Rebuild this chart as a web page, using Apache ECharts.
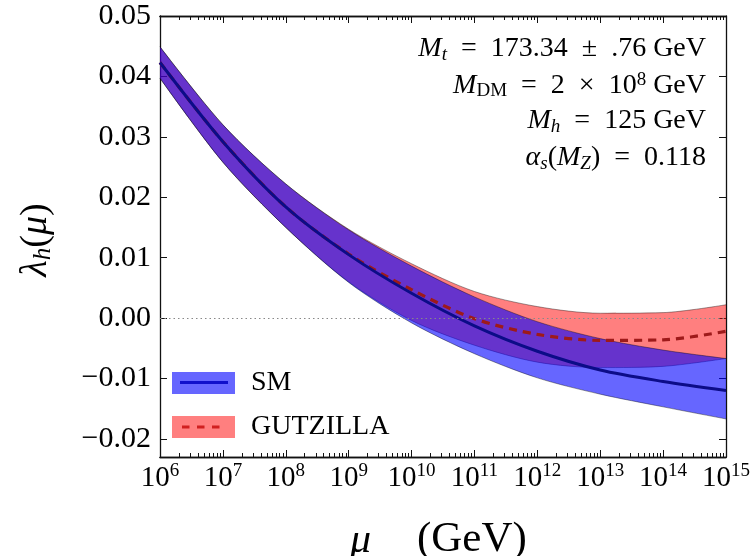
<!DOCTYPE html>
<html>
<head>
<meta charset="utf-8">
<script src="https://cdn.jsdelivr.net/npm/echarts@6/dist/echarts.min.js"></script>
<style>
  html, body { margin: 0; padding: 0; background: #fff; }
</style>
</head>
<body>
<div id="chart" style="width: 754px; height: 556px"></div>
<script>
// log10(mu / GeV), one point per decade
const logMu = [6, 7, 8, 9, 10, 11, 12, 13, 14, 15];

// SM running quartic
const smCentral = [0.0423, 0.0292, 0.0184, 0.0105, 0.0041, -0.0013, -0.0055, -0.0086, -0.0105, -0.0120];
const smUpper = [0.0449, 0.0320, 0.0222, 0.0146, 0.0086, 0.0035, -0.0006, -0.0034, -0.0053, -0.0067];
const smLower = [0.0397, 0.0258, 0.0150, 0.0059, -0.0008, -0.0059, -0.0099, -0.0126, -0.0147, -0.0167];

// GUTZILLA running quartic
const gutCentral = [0.0423, 0.0292, 0.0184, 0.0106, 0.0047, -0.0001, -0.0027, -0.0037, -0.0036, -0.0022];
const gutUpper = [0.0449, 0.0320, 0.0222, 0.0147, 0.0090, 0.0044, 0.0019, 0.0008, 0.0009, 0.0022];
const gutLower = [0.0397, 0.0258, 0.0150, 0.0060, -0.0004, -0.0045, -0.0073, -0.0082, -0.0080, -0.0067];

// ticks (x in decades)
const xMajorTicks = [6, 7, 8, 9, 10, 11, 12, 13, 14, 15];
const yTicks = [-0.02, -0.01, 0, 0.01, 0.02, 0.03, 0.04, 0.05];

const xMinorTicks = [];
for (let d = 6; d < 15; d++) {
  for (let k = 2; k <= 9; k++) xMinorTicks.push(d + Math.log10(k));
}

const FONT = "'Liberation Serif', 'DejaVu Serif', serif";
const EDGE = { color: "#000", opacity: 0.55, width: 0.7 };
const AXIS_LINE = { color: "#111", width: 1.3 };
const SMOOTH = 0.3;

const diff = (up, lo) => up.map((v, i) => +(v - lo[i]).toFixed(5));

const chart = echarts.init(document.getElementById("chart"));

// tick-only value axes laid over the category axis (log decades)
function tickAxis(pos, ticks, len) {
  return {
    type: "value",
    position: pos,
    min: 6,
    max: 15,
    axisLine: { show: true, onZero: false, lineStyle: AXIS_LINE },
    axisTick: { show: true, inside: true, length: len, customValues: ticks, lineStyle: { color: "#111", width: 1 } },
    axisLabel: { show: false },
    splitLine: { show: false },
  };
}

function yAxisDef(pos) {
  return {
    type: "value",
    position: pos,
    min: -0.023,
    max: 0.05,
    axisLine: { show: true, onZero: false, lineStyle: AXIS_LINE },
    axisTick: {
      show: true,
      inside: true,
      length: 7,
      customValues: yTicks,
      lineStyle: { color: "#111", width: 1 },
    },
    axisLabel: {
      show: pos === "left",
      customValues: yTicks,
      margin: 9,
      fontFamily: FONT,
      fontSize: 30,
      color: "#000",
      formatter: (v) => (v < -1e-9 ? "\u2212" : "") + Math.abs(v).toFixed(2),
    },
    splitLine: { show: false },
  };
}

const rich = {
  it: { fontFamily: FONT, fontStyle: "italic", fontSize: 28, lineHeight: 30, fill: "#000" },
  rm: { fontFamily: FONT, fontSize: 28, lineHeight: 30, fill: "#000" },
  sub: { fontFamily: FONT, fontStyle: "italic", fontSize: 19, lineHeight: 14, verticalAlign: "bottom", fill: "#000" },
  subrm: { fontFamily: FONT, fontSize: 19, lineHeight: 14, verticalAlign: "bottom", fill: "#000" },
  sup: { fontFamily: FONT, fontSize: 19, lineHeight: 14, verticalAlign: "top", fill: "#000" },
};

function note(text, y) {
  return { type: "text", right: 48, top: y, style: { text: text, rich: rich, align: "right" } };
}

const band = (stack, lo, up, color, z) => [
  {
    type: "line", stack: stack, stackStrategy: "all", data: lo, smooth: SMOOTH,
    showSymbol: false, symbol: "none", lineStyle: EDGE, z: z,
  },
  {
    type: "line", stack: stack, stackStrategy: "all", data: diff(up, lo), smooth: SMOOTH,
    showSymbol: false, symbol: "none", lineStyle: EDGE,
    areaStyle: { color: color, opacity: 1 }, z: z,
  },
];

const E = "\u2002"; // wider math spacing around relations

chart.setOption({
  animation: false,
  grid: { left: 160, right: 28, top: 16, bottom: 99 },
  xAxis: [
    {
      type: "category",
      data: logMu,
      boundaryGap: false,
      position: "bottom",
      axisLine: { show: true, onZero: false, lineStyle: AXIS_LINE },
      axisTick: { show: true, inside: true, length: 7, alignWithLabel: true, interval: 0, lineStyle: { color: "#111", width: 1 } },
      axisLabel: {
        interval: 0,
        margin: 5,
        formatter: (v) => "{b|10}{s|" + v + "}",
        rich: {
          b: { fontFamily: FONT, fontSize: 29, lineHeight: 32, color: "#000" },
          s: { fontFamily: FONT, fontSize: 19, lineHeight: 18, verticalAlign: "top", color: "#000" },
        },
      },
      splitLine: { show: false },
    },
    tickAxis("bottom", xMinorTicks, 4),
    tickAxis("top", xMajorTicks, 7),
    tickAxis("top", xMinorTicks, 4),
  ],
  yAxis: [yAxisDef("left"), yAxisDef("right")],
  series: [
    ...band("gut", gutLower, gutUpper, "rgba(255,0,0,0.5)", 1),
    ...band("sm", smLower, smUpper, "rgba(0,0,255,0.6)", 2),
    {
      name: "GUTZILLA", type: "line", data: gutCentral, smooth: SMOOTH,
      showSymbol: false, symbol: "none", z: 3,
      lineStyle: { color: "#9e1a1a", width: 3.2, type: [8, 6] },
    },
    {
      name: "SM", type: "line", data: smCentral, smooth: SMOOTH,
      showSymbol: false, symbol: "none", z: 4,
      lineStyle: { color: "#0c0c88", width: 3 },
      markLine: {
        silent: true, symbol: "none", label: { show: false },
        lineStyle: { color: "#888", type: [1.5, 3], width: 1 },
        data: [{ yAxis: 0 }],
      },
    },
  ],
  graphic: [
    note("{it|M}{sub|t}{rm|" + E + "=" + E + "173.34" + E + "\u00b1" + E + ".76 GeV}", 35),
    note("{it|M}{subrm|DM}{rm|" + E + "=" + E + "2" + E + "\u00d7" + E + "10}{sup|8}{rm| GeV}", 71),
    note("{it|M}{sub|h}{rm|" + E + "=" + E + "125 GeV}", 107),
    note("{it|\u03b1}{sub|s}{rm|(}{it|M}{sub|Z}{rm|)" + E + "=" + E + "0.118}", 144),

    // legend
    { type: "rect", shape: { x: 172, y: 372, width: 63, height: 22 }, style: { fill: "rgba(0,0,255,0.6)" } },
    { type: "line", shape: { x1: 180, y1: 382.5, x2: 228, y2: 382.5 }, style: { stroke: "#1010cc", lineWidth: 3 } },
    { type: "text", x: 251, y: 383, style: { text: "SM", font: "28px " + FONT, fill: "#000", verticalAlign: "middle" } },
    { type: "rect", shape: { x: 172, y: 416, width: 63, height: 22 }, style: { fill: "rgba(255,0,0,0.5)" } },
    { type: "line", shape: { x1: 182, y1: 427, x2: 221, y2: 427 }, style: { stroke: "#d02020", lineWidth: 3, lineDash: [7.5, 7.5] } },
    { type: "text", x: 251, y: 427, style: { text: "GUTZILLA", font: "28px " + FONT, fill: "#000", verticalAlign: "middle" } },

    // axis titles
    { type: "text", x: 350, y: 541, style: { text: "\u03bc", font: "italic 42px " + FONT, fill: "#000", verticalAlign: "middle" } },
    { type: "text", x: 417, y: 540, style: { text: "(GeV)", font: "43px " + FONT, fill: "#000", verticalAlign: "middle" } },
    {
      type: "text", x: 36, y: 240, rotation: Math.PI / 2,
      style: {
        text: "{it|\u03bb}{sub|h}{rm|(}{it|\u03bc}{rm|)}", align: "center", verticalAlign: "middle",
        rich: {
          it: { fontFamily: FONT, fontStyle: "italic", fontSize: 38, lineHeight: 40, fill: "#000" },
          rm: { fontFamily: FONT, fontSize: 38, lineHeight: 40, fill: "#000" },
          sub: { fontFamily: FONT, fontStyle: "italic", fontSize: 25, lineHeight: 18, verticalAlign: "bottom", fill: "#000" },
        },
      },
    },
  ],
});
</script>
</body>
</html>
